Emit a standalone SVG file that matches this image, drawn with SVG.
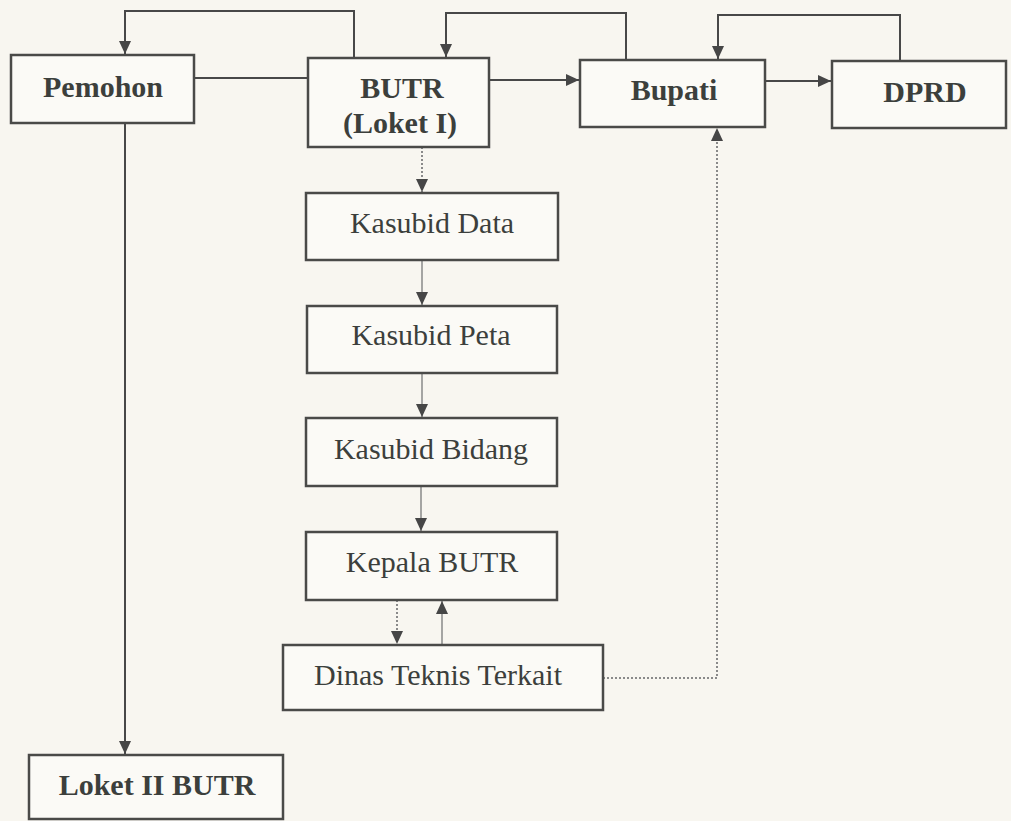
<svg xmlns="http://www.w3.org/2000/svg" width="1011" height="821" viewBox="0 0 1011 821">
<style>
.box{fill:#fbfaf6;stroke:#4a4a48;stroke-width:2.5}
.t{font-family:"Liberation Serif","Times New Roman",serif;font-size:30px;fill:#3c3f3c;text-anchor:middle}
.b{font-weight:bold}
.ln{fill:none;stroke:#484848;stroke-width:2}
.thin{fill:none;stroke:#8a8a8a;stroke-width:1.5}
.dot{fill:none;stroke:#8a8a8a;stroke-width:2;stroke-dasharray:2 2}
</style>
<defs>
<marker id="ah" markerUnits="userSpaceOnUse" markerWidth="14" markerHeight="14" viewBox="0 0 14 14" refX="13" refY="7" orient="auto">
<path d="M0,1 L13,7 L0,13 z" fill="#464646"/>
</marker>
</defs>
<rect width="1011" height="821" fill="#f8f6f0"/>
<g id="connectors">
<path class="ln" d="M354,58 V11 H125 V54" marker-end="url(#ah)"/>
<path class="ln" d="M626,60 V13 H446 V57" marker-end="url(#ah)"/>
<path class="ln" d="M900,61 V15 H718 V59" marker-end="url(#ah)"/>
<path class="ln" d="M194,78 H308"/>
<path class="ln" d="M489,80 H579" marker-end="url(#ah)"/>
<path class="ln" d="M765,81 H831" marker-end="url(#ah)"/>
<path class="ln" d="M125,123 V754" marker-end="url(#ah)"/>
<path class="dot" d="M422,147 V192" marker-end="url(#ah)"/>
<path class="thin" d="M422,260 V305" marker-end="url(#ah)"/>
<path class="thin" d="M422,373 V417" marker-end="url(#ah)"/>
<path class="thin" d="M421,486 V531" marker-end="url(#ah)"/>
<path class="dot" d="M397,600 V644" marker-end="url(#ah)"/>
<path class="thin" d="M442,645 V601" marker-end="url(#ah)"/>
<path class="dot" d="M603,678 H717 V128" marker-end="url(#ah)"/>
</g>
<g id="pemohon"><rect class="box" x="11" y="55" width="183" height="68"/><text class="t b" x="103" y="97">Pemohon</text></g>
<g id="butr"><rect class="box" x="308" y="58" width="181" height="89"/><text class="t b" x="402" y="98">BUTR</text><text class="t b" x="400" y="133">(Loket I)</text></g>
<g id="bupati"><rect class="box" x="580" y="60" width="185" height="67"/><text class="t b" x="674" y="100">Bupati</text></g>
<g id="dprd"><rect class="box" x="832" y="61" width="174" height="67"/><text class="t b" x="925" y="102">DPRD</text></g>
<g id="kasubid-data"><rect class="box" x="306" y="193" width="252" height="67"/><text class="t" x="432" y="233">Kasubid Data</text></g>
<g id="kasubid-peta"><rect class="box" x="307" y="306" width="250" height="67"/><text class="t" x="431" y="345">Kasubid Peta</text></g>
<g id="kasubid-bidang"><rect class="box" x="306" y="418" width="251" height="68"/><text class="t" x="431" y="459">Kasubid Bidang</text></g>
<g id="kepala-butr"><rect class="box" x="306" y="532" width="251" height="68"/><text class="t" x="432" y="572">Kepala BUTR</text></g>
<g id="dinas"><rect class="box" x="283" y="645" width="320" height="65"/><text class="t" x="438" y="685">Dinas Teknis Terkait</text></g>
<g id="loket-ii"><rect class="box" x="29" y="755" width="254" height="64"/><text class="t b" x="157" y="795">Loket II BUTR</text></g>
</svg>
